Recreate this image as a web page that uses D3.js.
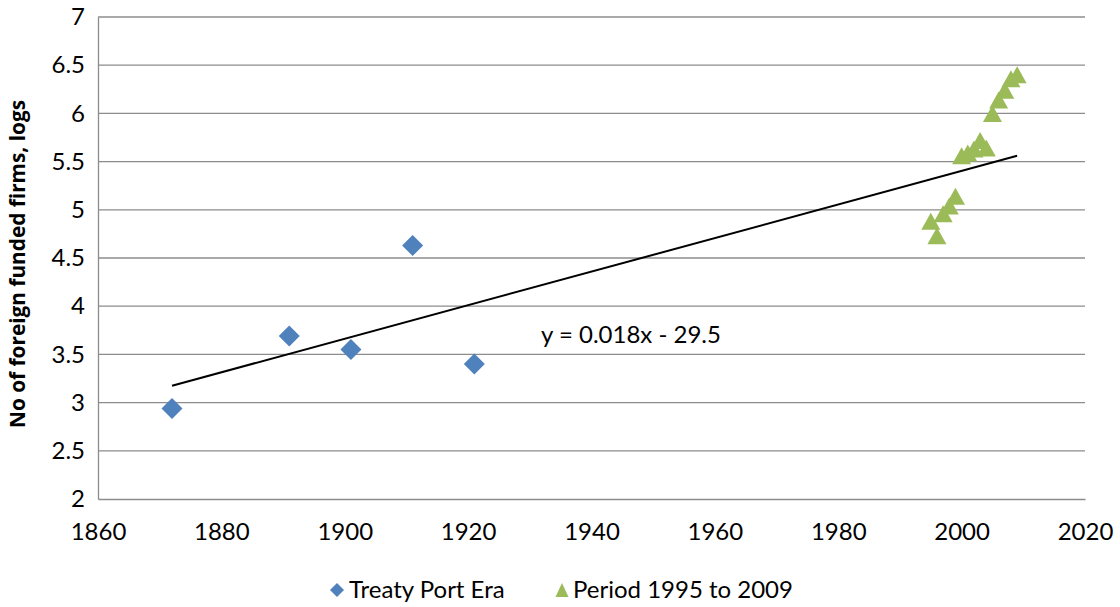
<!DOCTYPE html>
<html>
<head>
<meta charset="utf-8">
<script src="https://cdn.jsdelivr.net/npm/d3@7"></script>
<style>
  html, body { margin: 0; padding: 0; background: #fff; }
  svg { display: block; font-family: "Lato", "Open Sans", sans-serif; }
</style>
</head>
<body>
<svg id="chart" width="1120" height="607"></svg>
<script>
// ---- data ----
const treatyYears  = [1872, 1891, 1901, 1911, 1921];
const treatyValues = [2.94, 3.69, 3.55, 4.63, 3.40];
const periodYears  = [1995, 1996, 1997, 1998, 1999, 2000, 2001, 2002, 2003, 2004, 2005, 2006, 2007, 2008, 2009];
const periodValues = [4.88, 4.73, 4.96, 5.04, 5.14, 5.56, 5.59, 5.63, 5.72, 5.64, 6.00, 6.14, 6.24, 6.36, 6.40];
const trendYears   = [1872, 2009];
const trendValues  = [3.175, 5.56];
const trendLabel   = "y = 0.018x - 29.5";
const xTicks = [1860, 1880, 1900, 1920, 1940, 1960, 1980, 2000, 2020];
const yTicks = [2, 2.5, 3, 3.5, 4, 4.5, 5, 5.5, 6, 6.5, 7];
const seriesNames = ["Treaty Port Era", "Period 1995 to 2009"];
const yTitle = "No of foreign funded firms, logs";

const blue = "#4F81BD", green = "#9BBB59", grid = "#8c8c8c";
const FS = 24;

const svg = d3.select("#chart");
const L = 98, R = 1085, T = 17, B = 499;
const x = d3.scaleLinear().domain([1860, 2020]).range([L, R]);
const y = d3.scaleLinear().domain([2, 7]).range([B, T]);

// gridlines
svg.append("g").selectAll("line").data(yTicks.filter(v => v !== 2)).join("line")
  .attr("x1", L).attr("x2", R)
  .attr("y1", d => y(d)).attr("y2", d => y(d))
  .attr("stroke", grid).attr("stroke-width", 1.3);

// axes
const yAxis = d3.axisLeft(y).tickValues(yTicks).tickSize(0).tickPadding(13)
  .tickFormat(d => String(d));
const gy = svg.append("g").attr("transform", `translate(${L},0)`).call(yAxis);
gy.select(".domain").attr("stroke", grid).attr("stroke-width", 1.3);
gy.selectAll("text").attr("font-size", FS).attr("fill", "#000").attr("font-family", "Lato");

const xAxis = d3.axisBottom(x).tickValues(xTicks).tickSize(0).tickPadding(24)
  .tickFormat(d => String(d));
const gx = svg.append("g").attr("transform", `translate(0,${B})`).call(xAxis);
gx.select(".domain").attr("stroke", grid).attr("stroke-width", 1.3);
gx.selectAll("text").attr("font-size", FS).attr("fill", "#000").attr("font-family", "Lato");

// y title
svg.append("text")
  .attr("transform", `translate(25,264) rotate(-90)`)
  .attr("text-anchor", "middle")
  .attr("font-family", "Open Sans")
  .attr("font-size", 20.8).attr("font-weight", "bold")
  .text(yTitle);

// trend line
const trend = trendYears.map((yr, i) => [yr, trendValues[i]]);
svg.append("path")
  .attr("d", d3.line().x(d => x(d[0])).y(d => y(d[1]))(trend))
  .attr("stroke", "#000").attr("stroke-width", 2).attr("fill", "none");

svg.append("text")
  .attr("x", 541).attr("y", 343)
  .attr("font-size", FS).attr("fill", "#000")
  .text(trendLabel);

// symbols
const diamond = (s) => `M0,${-s}L${s},0L0,${s}L${-s},0Z`;
const triangle = (w, h) => `M0,${-h/2}L${w/2},${h/2}L${-w/2},${h/2}Z`;

const treaty = treatyYears.map((yr, i) => [yr, treatyValues[i]]);
const period = periodYears.map((yr, i) => [yr, periodValues[i]]);

svg.append("g").selectAll("path").data(treaty).join("path")
  .attr("transform", d => `translate(${x(d[0])},${y(d[1])})`)
  .attr("d", diamond(10.5))
  .attr("fill", blue);

svg.append("g").selectAll("path").data(period).join("path")
  .attr("transform", d => `translate(${x(d[0])},${y(d[1])})`)
  .attr("d", triangle(19, 17))
  .attr("fill", green);

// legend
const lg = svg.append("g").attr("font-size", FS);
lg.append("path").attr("transform", "translate(337,590)").attr("d", diamond(7)).attr("fill", blue);
lg.append("text").attr("x", 349).attr("y", 598).text(seriesNames[0]);
lg.append("path").attr("transform", "translate(562,590)").attr("d", triangle(13, 14)).attr("fill", green);
lg.append("text").attr("x", 573).attr("y", 598).text(seriesNames[1]);
</script>
</body>
</html>
